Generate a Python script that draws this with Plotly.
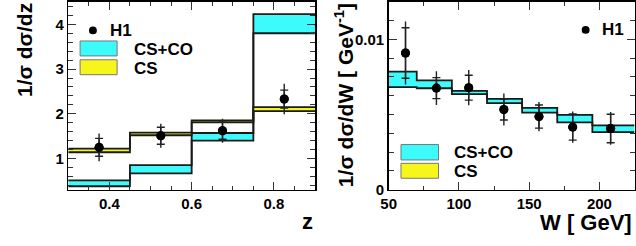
import plotly.graph_objects as go

# ---------------- data ----------------
# left panel: 1/sigma dsigma/dz
z_edges = [0.3, 0.45, 0.6, 0.75, 0.9]
z_csco_low = [0.38, 0.67, 1.40, 3.80]
z_csco_high = [0.51, 0.85, 1.57, 4.23]
z_cs_low = [1.14, 1.52, 1.81, 2.06]
z_cs_high = [1.22, 1.58, 1.85, 2.15]
z_points = [0.375, 0.525, 0.675, 0.825]
z_vals = [1.25, 1.51, 1.62, 2.33]
z_stat = [0.20, 0.19, 0.19, 0.20]
z_tot = [0.31, 0.27, 0.27, 0.34]

# right panel: 1/sigma dsigma/dW
w_edges = [50, 70, 95, 120, 145, 170, 195, 225]
w_csco_low = [0.00683, 0.00675, 0.00636, 0.00576, 0.00512, 0.00448, 0.00383]
w_csco_high = [0.00786, 0.00728, 0.00658, 0.00604, 0.00544, 0.00497, 0.00428]
w_points = [62, 84, 107, 132, 157, 181, 208]
w_vals = [0.00910, 0.00676, 0.00679, 0.00533, 0.00486, 0.00416, 0.00407]
w_stat = [0.00168, 0.00070, 0.00083, 0.00070, 0.00077, 0.00087, 0.00095]
w_tot = [0.00210, 0.00113, 0.00117, 0.00107, 0.00097, 0.00104, 0.00109]

z_ticks = [0.4, 0.6, 0.8]
w_ticks = [50, 100, 150, 200]
w_ytick_vals = [0, 0.01]
w_ytick_text = ["0", "0.01"]

# ---------------- style ----------------
CYAN = "#3dfbfb"
YELLOW = "#f6f61c"
EDGE = "#1a1a1a"
FONT = "Liberation Sans, Arial, sans-serif"
W, H = 636, 246


def px(x):
    return x / W


def py(y):
    return 1 - y / H


fig = go.Figure()


def band(edges, low, high, color, xa, ya):
    ylo = list(low) + [low[-1]]
    yhi = list(high) + [high[-1]]
    fig.add_trace(go.Scatter(x=edges, y=ylo, mode="lines", line=dict(shape="hv", color=EDGE, width=1.8),
                             xaxis=xa, yaxis=ya, showlegend=False, hoverinfo="skip"))
    fig.add_trace(go.Scatter(x=edges, y=yhi, mode="lines", line=dict(shape="hv", color=EDGE, width=1.8),
                             fill="tonexty", fillcolor=color,
                             xaxis=xa, yaxis=ya, showlegend=False, hoverinfo="skip"))


def points(x, y, stat, tot, xa, ya):
    fig.add_trace(go.Scatter(x=x, y=y, mode="markers",
                             marker=dict(color="black", size=9),
                             error_y=dict(type="data", array=tot, visible=True, width=0, thickness=1.4, color="#222"),
                             xaxis=xa, yaxis=ya, showlegend=False, hoverinfo="skip"))
    fig.add_trace(go.Scatter(x=x, y=y, mode="markers",
                             marker=dict(color="black", size=9),
                             error_y=dict(type="data", array=stat, visible=True, width=4, thickness=1.4, color="#222"),
                             xaxis=xa, yaxis=ya, showlegend=False, hoverinfo="skip"))


band(z_edges, z_csco_low, z_csco_high, CYAN, "x", "y")
band(z_edges, z_cs_low, z_cs_high, YELLOW, "x", "y")
points(z_points, z_vals, z_stat, z_tot, "x", "y")

band(w_edges, w_csco_low, w_csco_high, CYAN, "x2", "y2")
points(w_points, w_vals, w_stat, w_tot, "x2", "y2")

tickfont = dict(family=FONT, size=15, color="black", weight="bold")
common = dict(showgrid=False, zeroline=False, showline=True, linecolor="black", linewidth=1.5,
              mirror="allticks", ticks="inside", ticklen=8, tickwidth=1, tickcolor="#333",
              tickfont=tickfont)

fig.update_layout(
    width=W, height=H,
    margin=dict(l=0, r=0, t=0, b=0),
    paper_bgcolor="white", plot_bgcolor="white",
    showlegend=False,
    xaxis=dict(domain=[px(61), px(311)], range=[0.3, 0.9], anchor="y",
               tickvals=z_ticks, ticktext=["0.4", "0.6", "0.8"],
               minor=dict(dtick=0.05, tick0=0.3, ticks="inside", ticklen=4, tickcolor="#333"), **common),
    yaxis=dict(domain=[py(196), py(1)], range=[0.3, 4.5], anchor="x",
               tick0=0, dtick=1,
               minor=dict(dtick=0.2, tick0=0, ticks="inside", ticklen=5, tickcolor="#333"), **common),
    xaxis2=dict(domain=[px(385.5), px(634.5)], range=[50, 225], anchor="y2",
                tickvals=w_ticks,
                minor=dict(dtick=25, tick0=0, ticks="inside", ticklen=4, tickcolor="#333"), **common),
    yaxis2=dict(domain=[py(195.7), py(1)], range=[0, 0.0125], anchor="x2",
                tickvals=w_ytick_vals, ticktext=w_ytick_text,
                minor=dict(dtick=0.00125, tick0=0, ticks="inside", ticklen=5, tickcolor="#333"), **common),
)

lab = dict(family=FONT, color="black", weight="bold")
ann = []
# axis titles
ann.append(dict(x=px(16), y=py(51), text="1/σ dσ/dz", textangle=-90, font=dict(size=21, **lab)))
ann.append(dict(x=px(341), y=py(98), text="1/σ dσ/dW [ GeV<sup>-1</sup>]", textangle=-90, font=dict(size=21, **lab)))
ann.append(dict(x=px(303), y=py(229), text="z", font=dict(size=22, **lab)))
ann.append(dict(x=px(634), y=py(229.5), text="W [ GeV]", xanchor="right", font=dict(size=22, **lab)))
# legend texts
ann.append(dict(x=px(101), y=py(30.5), text="H1", xanchor="left", font=dict(size=17, **lab)))
ann.append(dict(x=px(126), y=py(50.5), text="CS+CO", xanchor="left", font=dict(size=17, **lab)))
ann.append(dict(x=px(126), y=py(70), text="CS", xanchor="left", font=dict(size=17, **lab)))
ann.append(dict(x=px(600), y=py(30), text="H1", xanchor="left", font=dict(size=17, **lab)))
ann.append(dict(x=px(450), y=py(157.5), text="CS+CO", xanchor="left", font=dict(size=17, **lab)))
ann.append(dict(x=px(450), y=py(176.5), text="CS", xanchor="left", font=dict(size=17, **lab)))
for a in ann:
    a.update(xref="paper", yref="paper", showarrow=False)
    a.setdefault("xanchor", "center")
    a.setdefault("yanchor", "middle")
fig.update_layout(annotations=ann)

shapes = []
def rect(x0, y0, x1, y1, color):
    shapes.append(dict(type="rect", xref="paper", yref="paper", x0=px(x0), x1=px(x1), y0=py(y1), y1=py(y0),
                       fillcolor=color, line=dict(color="#777", width=1)))

def dot(cx, cy, r):
    shapes.append(dict(type="circle", xref="paper", yref="paper", x0=px(cx - r), x1=px(cx + r),
                       y0=py(cy + r), y1=py(cy - r), fillcolor="black", line=dict(color="black", width=0)))

rect(73, 41.5, 110.5, 57, CYAN)
rect(73, 61, 110.5, 76.5, YELLOW)
dot(86, 30.5, 4)
rect(398, 149, 436, 165, CYAN)
rect(398, 168.5, 436, 184, YELLOW)
dot(585, 30, 4)
fig.update_layout(shapes=shapes)

fig.write_html("out.html", config={"displayModeBar": False, "staticPlot": True},
               post_script="document.body.style.margin='0px';document.body.style.overflow='hidden';")
